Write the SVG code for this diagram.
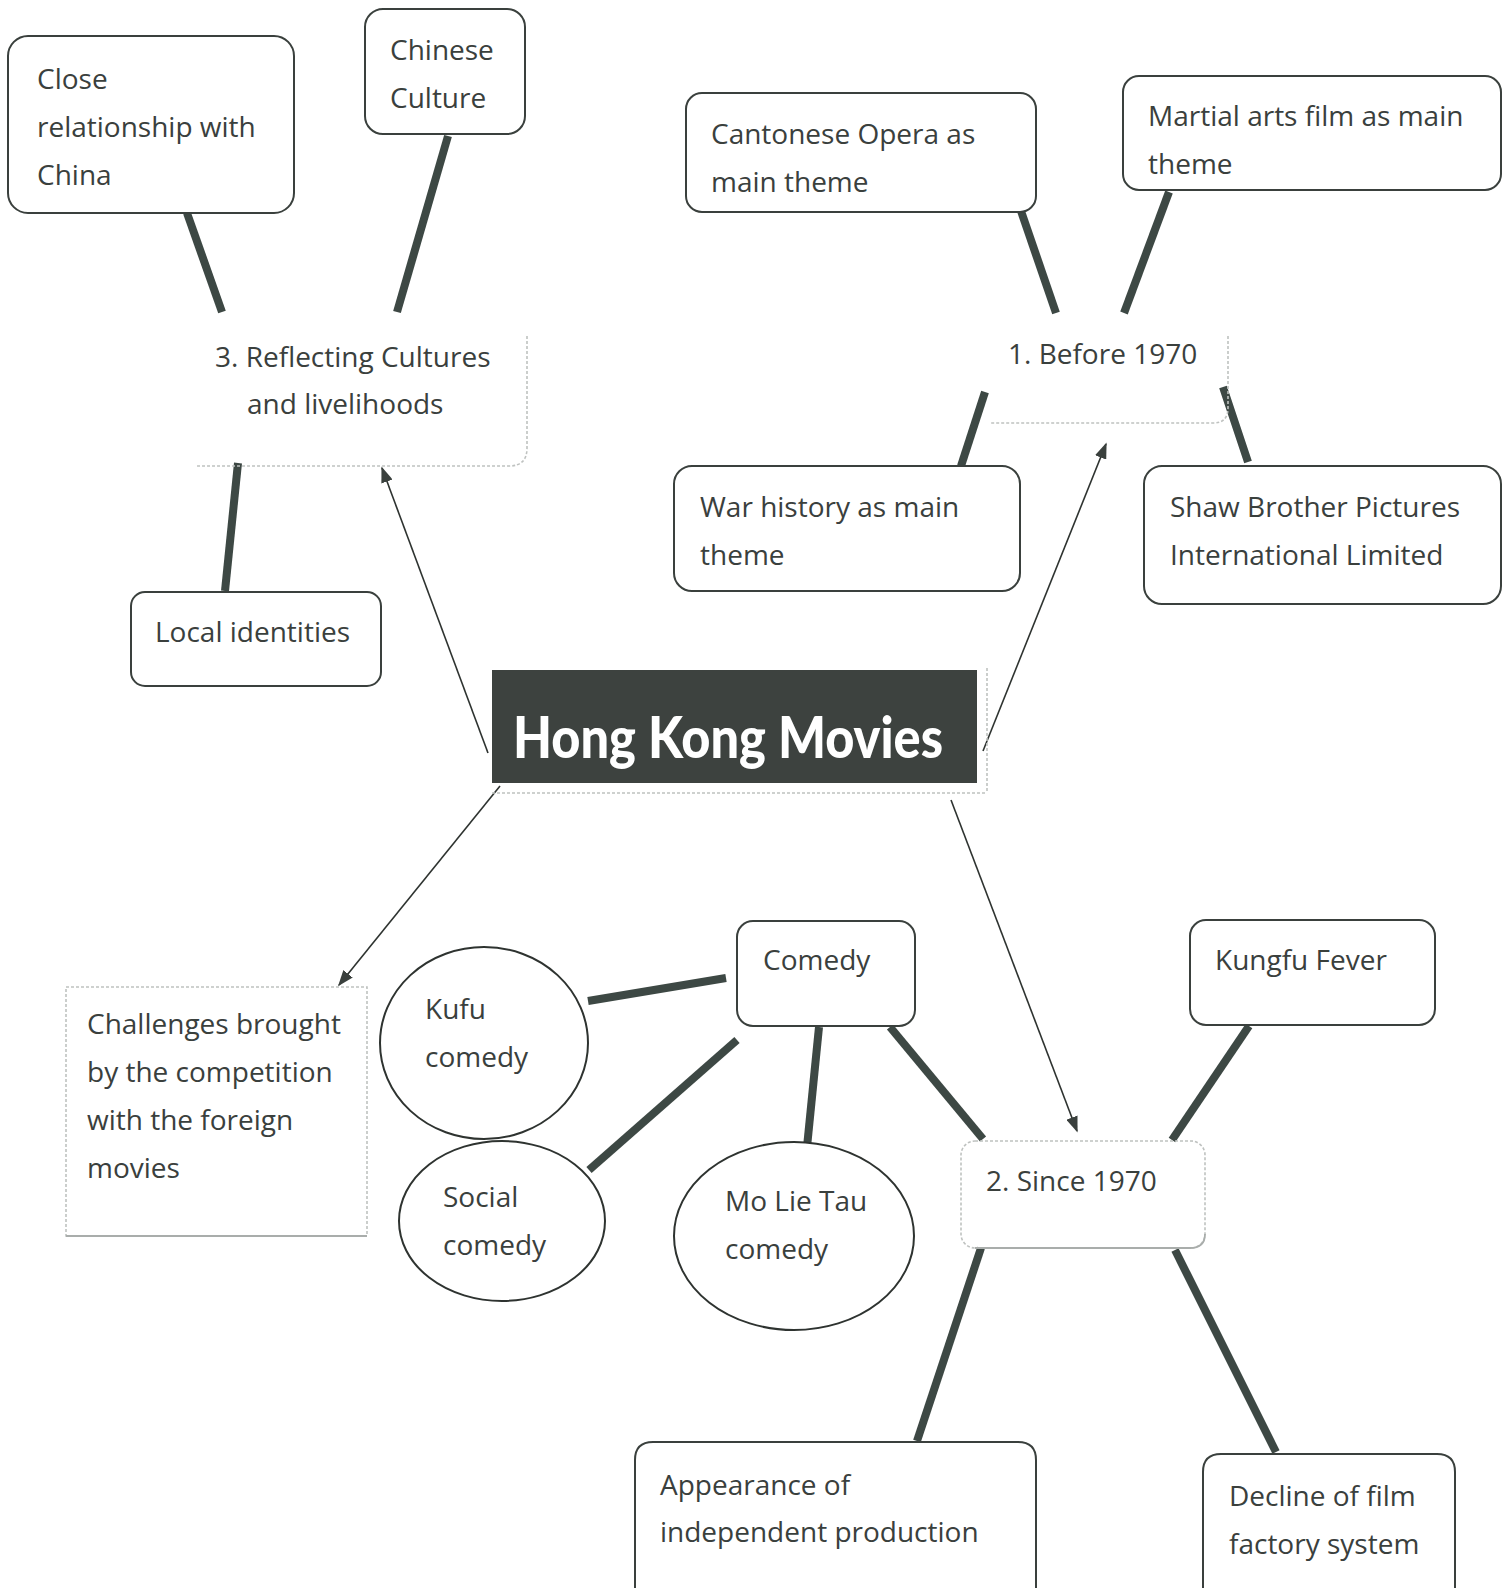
<svg xmlns="http://www.w3.org/2000/svg" width="1504" height="1588" viewBox="0 0 1504 1588">
<defs>
<style>
.box{fill:#fff;stroke:#3a403d;stroke-width:2}
.ell{fill:#fff;stroke:#2e3330;stroke-width:2}
.faint{fill:none;stroke:#bfc2c0;stroke-width:1.6;stroke-dasharray:3 2}
.t{font-family:"Open Sans","Noto Sans","DejaVu Sans",sans-serif;font-size:28px;fill:#3a403d}
.thick{stroke:#3d4844;stroke-width:8;fill:none}
.thin{stroke:#2e3330;stroke-width:1.6;fill:none;marker-end:url(#ah)}
.title{font-family:"Lato","DejaVu Sans",sans-serif;font-weight:900;font-size:58px;fill:#fff}
</style>
<marker id="ah" viewBox="0 0 10 10" refX="9" refY="5" markerWidth="16" markerHeight="12" markerUnits="userSpaceOnUse" orient="auto" preserveAspectRatio="none">
<path d="M0,0 L10,5 L0,10 z" fill="#3a403d"/>
</marker>
</defs>
<rect width="1504" height="1588" fill="#fff"/>

<g id="connectors">
<line class="thick" x1="187" y1="213" x2="222" y2="312"/>
<line class="thick" x1="448" y1="136" x2="397" y2="312"/>
<line class="thick" x1="225" y1="591" x2="238" y2="463"/>
<line class="thick" x1="1021" y1="211" x2="1056" y2="313"/>
<line class="thick" x1="1169" y1="192" x2="1124" y2="313"/>
<line class="thick" x1="961" y1="466" x2="985" y2="392"/>
<line class="thick" x1="1248" y1="462" x2="1223" y2="387"/>
<line class="thick" x1="588" y1="1001" x2="726" y2="978"/>
<line class="thick" x1="589" y1="1170" x2="737" y2="1040"/>
<line class="thick" x1="806" y1="1157" x2="819" y2="1027"/>
<line class="thick" x1="983" y1="1139" x2="890" y2="1027"/>
<line class="thick" x1="1249" y1="1026" x2="1172" y2="1140"/>
<line class="thick" x1="981" y1="1248" x2="917" y2="1441"/>
<line class="thick" x1="1175" y1="1250" x2="1276" y2="1452"/>
<line class="thin" x1="488" y1="753" x2="382" y2="468"/>
<line class="thin" x1="983" y1="751" x2="1106" y2="444"/>
<line class="thin" x1="500" y1="786" x2="339" y2="985"/>
<line class="thin" x1="951" y1="800" x2="1077" y2="1131"/>
</g>

<g id="center">
<rect x="492" y="670" width="485" height="113" fill="#3d423f"/>
<path class="faint" d="M987,668 V793 M492,793 H987"/>
<text class="title" x="513" y="758" textLength="430" lengthAdjust="spacingAndGlyphs">Hong Kong Movies</text>
</g>

<g id="n-reflecting">
<path class="faint" d="M527,336 V448 Q527,466 509,466 H196"/>
<text class="t" x="215" y="367">3. Reflecting Cultures</text>
<text class="t" x="247" y="414">and livelihoods</text>
</g>

<g id="n-before">
<path class="faint" d="M1228,336 V408 Q1228,423 1213,423 H990"/>
<text class="t" x="1008" y="364">1. Before 1970</text>
</g>

<g id="n-since">
<rect class="faint" x="961" y="1141" width="244" height="107" rx="14"/>
<path d="M975,1248 H1190 Q1205,1248 1205,1234" fill="none" stroke="#a9adab" stroke-width="1.8"/>
<text class="t" x="986" y="1191">2. Since 1970</text>
</g>

<g id="n-close">
<rect class="box" x="8" y="36" width="286" height="177" rx="20"/>
<text class="t" x="37" y="89">Close</text>
<text class="t" x="37" y="137">relationship with</text>
<text class="t" x="37" y="185">China</text>
</g>

<g id="n-chinese">
<rect class="box" x="365" y="9" width="160" height="125" rx="18"/>
<text class="t" x="390" y="60">Chinese</text>
<text class="t" x="390" y="108">Culture</text>
</g>

<g id="n-local">
<rect class="box" x="131" y="592" width="250" height="94" rx="14"/>
<text class="t" x="155" y="642">Local identities</text>
</g>

<g id="n-cantonese">
<rect class="box" x="686" y="93" width="350" height="119" rx="16"/>
<text class="t" x="711" y="144">Cantonese Opera as</text>
<text class="t" x="711" y="192">main theme</text>
</g>

<g id="n-martial">
<rect class="box" x="1123" y="76" width="378" height="114" rx="16"/>
<text class="t" x="1148" y="126">Martial arts film as main</text>
<text class="t" x="1148" y="174">theme</text>
</g>

<g id="n-war">
<rect class="box" x="674" y="466" width="346" height="125" rx="18"/>
<text class="t" x="700" y="517">War history as main</text>
<text class="t" x="700" y="565">theme</text>
</g>

<g id="n-shaw">
<rect class="box" x="1144" y="466" width="357" height="138" rx="18"/>
<text class="t" x="1170" y="517">Shaw Brother Pictures</text>
<text class="t" x="1170" y="565">International Limited</text>
</g>

<g id="n-challenges">
<rect class="faint" x="66" y="987" width="301" height="249"/>
<line x1="66" y1="1236" x2="367" y2="1236" stroke="#a9adab" stroke-width="2"/>
<text class="t" x="87" y="1034">Challenges brought</text>
<text class="t" x="87" y="1082">by the competition</text>
<text class="t" x="87" y="1130">with the foreign</text>
<text class="t" x="87" y="1178">movies</text>
</g>

<g id="n-comedy">
<rect class="box" x="737" y="921" width="178" height="105" rx="16"/>
<text class="t" x="763" y="970">Comedy</text>
</g>

<g id="n-kungfu">
<rect class="box" x="1190" y="920" width="245" height="105" rx="16"/>
<text class="t" x="1215" y="970">Kungfu Fever</text>
</g>

<g id="n-kufu">
<ellipse class="ell" cx="484" cy="1043" rx="104" ry="96"/>
<text class="t" x="425" y="1019">Kufu</text>
<text class="t" x="425" y="1067">comedy</text>
</g>

<g id="n-social">
<ellipse class="ell" cx="502" cy="1221" rx="103" ry="80"/>
<text class="t" x="443" y="1207">Social</text>
<text class="t" x="443" y="1255">comedy</text>
</g>

<g id="n-molietau">
<ellipse class="ell" cx="794" cy="1236" rx="120" ry="94"/>
<text class="t" x="725" y="1211">Mo Lie Tau</text>
<text class="t" x="725" y="1259">comedy</text>
</g>

<g id="n-appearance">
<path class="box" d="M635,1600 V1460 Q635,1442 653,1442 H1018 Q1036,1442 1036,1460 V1600"/>
<text class="t" x="660" y="1495">Appearance of</text>
<text class="t" x="660" y="1542">independent production</text>
</g>

<g id="n-decline">
<path class="box" d="M1203,1600 V1472 Q1203,1454 1221,1454 H1437 Q1455,1454 1455,1472 V1600"/>
<text class="t" x="1229" y="1506">Decline of film</text>
<text class="t" x="1229" y="1554">factory system</text>
</g>
</svg>
